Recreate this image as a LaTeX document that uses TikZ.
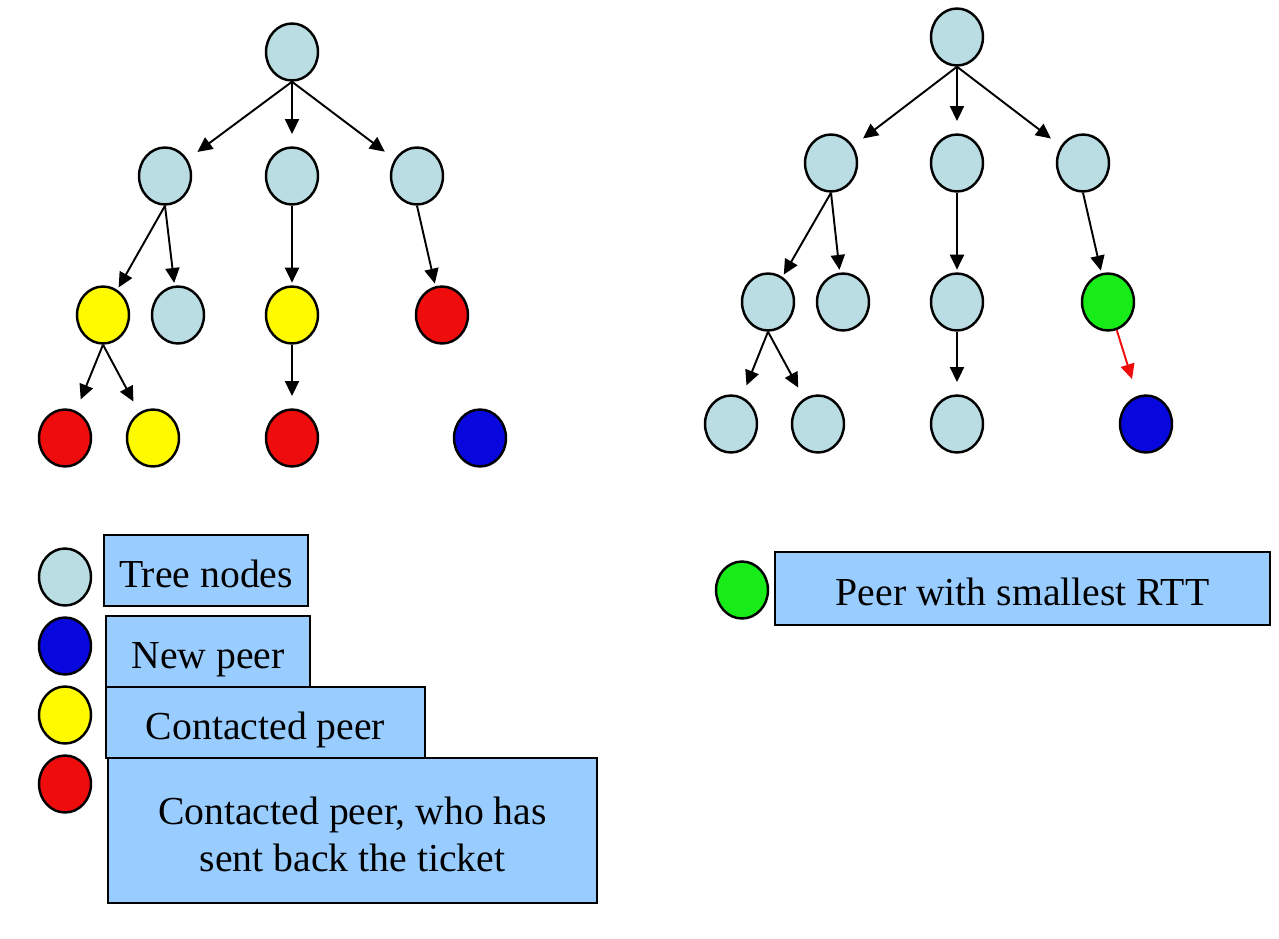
\documentclass[tikz,border=0pt]{standalone}
\usepackage{fontspec}
\setmainfont{Liberation Serif}
\usetikzlibrary{arrows.meta,shapes.geometric}

\definecolor{treeblue}{RGB}{185,221,226}
\definecolor{peerblue}{RGB}{8,8,222}
\definecolor{contyellow}{RGB}{255,250,0}
\definecolor{ticketred}{RGB}{238,12,12}
\definecolor{rttgreen}{RGB}{24,236,24}
\definecolor{legendblue}{RGB}{153,204,255}

\tikzset{
  peer/.style={ellipse,draw,line width=1.4pt,minimum width=1.04cm,minimum height=1.14cm,inner sep=0pt},
  link/.style={-{Triangle[length=8.5pt,width=8pt]},line width=1.1pt,shorten >=7pt},
  shortlink/.style={link,shorten >=1.5pt},
  legendbox/.style={draw,fill=legendblue,line width=0.7pt,inner sep=0pt,font=\fontsize{22.6}{26.6}\selectfont,align=center},
  legend/.style={legendbox,text height=22.6pt,text depth=3.6pt},
}

\begin{document}
\begin{tikzpicture}[x=0.02cm,y=-0.02cm]
            \useasboundingbox (0,0) rectangle (1279,938);

            % tree before the join
            \begin{scope}[every node/.style={peer,fill=treeblue}]
                \node (l0) at (292,52) {};
                \node (l1) at (165,176) {};
                \node (l2) at (292,176) {};
                \node (l3) at (417,176) {};
                \node (l4)[fill=contyellow] at (103,315) {};
                \node (l5) at (178,315) {};
                \node (l6)[fill=contyellow] at (292,315) {};
                \node (l7)[fill=ticketred] at (442,315) {};
                \node (l8)[fill=ticketred] at (65,438) {};
                \node (l9)[fill=contyellow] at (153,438) {};
                \node (l10)[fill=ticketred] at (292,438) {};
                \node (l11)[fill=peerblue] at (480,438) {};
            \end{scope}

            \begin{scope}
                \path [link] (l0.south) edge (l1);
                \path [link] (l0.south) edge (l2);
                \path [link] (l0.south) edge (l3);
                \path [shortlink] (l1.south) edge (l4);
                \path [shortlink] (l1.south) edge (l5);
                \path [shortlink] (l2.south) edge (l6);
                \path [shortlink] (l3.south) edge (l7);
                \path [link] (l4.south) edge (l8);
                \path [link] (l4.south) edge (l9);
                \path [link] (l6.south) edge (l10);
            \end{scope}

            % tree after the join
            \begin{scope}[every node/.style={peer,fill=treeblue}]
                \node (r0) at (957,37) {};
                \node (r1) at (831,163) {};
                \node (r2) at (957,163) {};
                \node (r3) at (1083,163) {};
                \node (r4) at (768,302) {};
                \node (r5) at (843,302) {};
                \node (r6) at (957,302) {};
                \node (r7)[fill=rttgreen] at (1108,302) {};
                \node (r8) at (731,424) {};
                \node (r9) at (818,424) {};
                \node (r10) at (957,424) {};
                \node (r11)[fill=peerblue] at (1146,424) {};
            \end{scope}

            \begin{scope}
                \path [link] (r0.south) edge (r1);
                \path [link] (r0.south) edge (r2);
                \path [link] (r0.south) edge (r3);
                \path [shortlink] (r1.south) edge (r4);
                \path [shortlink] (r1.south) edge (r5);
                \path [shortlink] (r2.south) edge (r6);
                \path [shortlink] (r3.south) edge (r7);
                \path [link] (r4.south) edge (r8);
                \path [link] (r4.south) edge (r9);
                \path [link] (r6.south) edge (r10);
                \path (r7) edge [link,draw=ticketred,shorten >=10pt] (r11);
            \end{scope}

            % legend
            \begin{scope}[every node/.style={peer}]
                \node (k1)[fill=treeblue] at (65,577) {};
                \node (k2)[fill=peerblue] at (65,646) {};
                \node (k3)[fill=contyellow] at (65,715) {};
                \node (k4)[fill=ticketred] at (65,784) {};
                \node (k5)[fill=rttgreen] at (742,590) {};
            \end{scope}

            \node (t1)[legend,minimum width=4.08cm,minimum height=1.42cm] at (206,570.5) {Tree nodes};
            \node (t2)[legend,minimum width=4.08cm,minimum height=1.42cm] at (208,651.5) {New peer};
            \node (t3)[legend,minimum width=6.38cm,minimum height=1.42cm] at (265.5,722.5) {Contacted peer};
            \node (t4)[legendbox,minimum width=9.78cm,minimum height=2.9cm] at (352.5,830.5) {\rule{0pt}{0.9em}Contacted peer, who has\\sent back the ticket};
            \node (t5)[legend,minimum width=9.9cm,minimum height=1.46cm] at (1022.5,588.5) {Peer with smallest RTT};
\end{tikzpicture}
\end{document}
